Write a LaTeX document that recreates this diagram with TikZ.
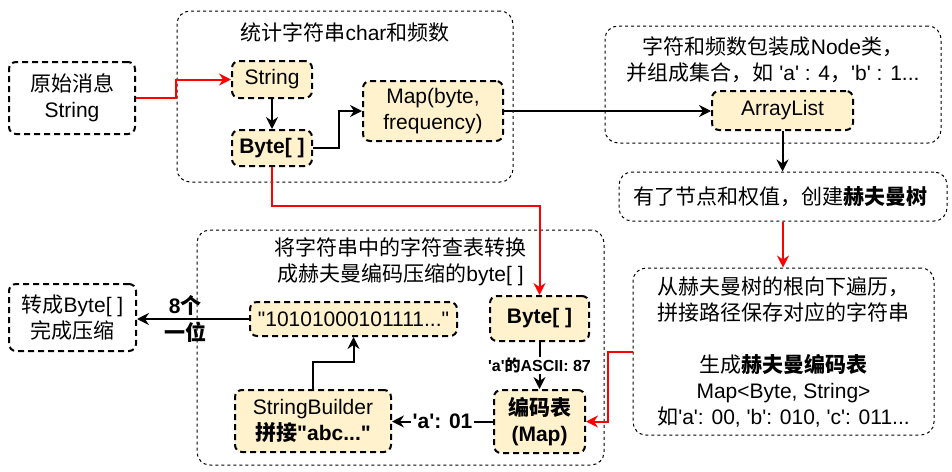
\documentclass[tikz,border=0pt]{standalone}
\usepackage{fontspec}
\setmainfont{Liberation Sans}[Ligatures=TeXOff]
\newfontfamily\cjk{Noto Sans CJK SC}
\usetikzlibrary{arrows.meta}
\definecolor{cream}{HTML}{FFF2CC}

\begin{document}
\begin{tikzpicture}[x=1pt,y=-1pt]\tikzstyle{every node}=[font=\fontsize{21}{26}\selectfont]
\tikzstyle{groupbox}=[draw, line width=1pt, dash pattern=on 3pt off 3pt, rounded corners=13pt, align=center]
\tikzstyle{endbox}=[draw, line width=2pt, dash pattern=on 6pt off 4pt, rounded corners=7pt, align=center, fill=white]
\tikzstyle{databox}=[endbox, fill=cream]
\tikzstyle{flow}=[draw, line width=2pt, -{Stealth[length=12pt, width=12pt, inset=4pt]}]
\tikzstyle{redflow}=[flow, red]
\tikzstyle{lbl}=[font=\fontsize{21}{26}\selectfont\bfseries]
\useasboundingbox (0,0) rectangle (952,471);
% groups
  \node[groupbox, minimum width=336, minimum height=171] (grp1) at (345,96.5) {};
  \node (t1) at (345,32) {{\cjk 统计字符串}char{\cjk 和频数}};
  \node[groupbox, minimum width=336, minimum height=117] (grp2) at (773,84.5) {};
  \node[align=center] (t2) at (773,59.5)%
{%
  {\cjk 字符和频数包装成}Node{\cjk 类，}\\
  {\cjk 并组成集合，如} 'a' : 4{\cjk ，}'b' : 1...
};
  \node[groupbox, minimum width=407, minimum height=235] (grp3) at (400.5,347.5) {};
  \node[align=center] (t3) at (400.5,262)%
{%
  {\cjk 将字符串中的字符查表转换}\\
  {\cjk 成赫夫曼编码压缩的}byte[ ]
};
% source
  \node[endbox, minimum width=126, minimum height=72] (src) at (72,98) {{\cjk 原始消息}\\String};
% count
  \node[databox, minimum width=80, minimum height=37] (str) at (272,79.5) {String};
  \node[databox, minimum width=80, minimum height=36] (bytes) at (272,148) {\textbf{Byte[ ]}};
  \node[databox, minimum width=140, minimum height=60] (map) at (433,111) {Map(byte,\\frequency)};
% list
  \node[databox, minimum width=141, minimum height=39] (list) at (782.5,110.5) {ArrayList};
% tree
  \node[groupbox, minimum width=328, minimum height=49] (tree) at (783,196.5)%
{%
  {\cjk 有了节点和权值，创建}\textbf{\cjk 赫夫曼树}
};
% codes
  \node[groupbox, minimum width=301, minimum height=167] (code) at (783.5,351.5)%
{%
  {\cjk 从赫夫曼树的根向下遍历，}\\
  {\cjk 拼接路径保存对应的字符串}\\[26pt]
  {\cjk 生成}\textbf{\cjk 赫夫曼编码表}\\
  Map<Byte, String>\\
  {\cjk 如}'a': 00, 'b': 010, 'c': 011...
};
% encode
  \node[databox, minimum width=99, minimum height=45] (bytes2) at (539.5,318.5) {\textbf{Byte[ ]}};
  \node[databox, minimum width=91, minimum height=63] (table) at (539.5,421.5) {\textbf{\cjk 编码表}\\\textbf{(Map)}};
  \node[databox, minimum width=156, minimum height=62] (sb) at (313,421) {StringBuilder\\\textbf{{\cjk 拼接}"abc..."}};
  \node[databox, minimum width=207, minimum height=34] (bits) at (353.5,319) {"10101000101111..."};
% result
  \node[endbox, minimum width=127, minimum height=67] (done) at (72.5,317.5) {{\cjk 转成}Byte[ ]\\{\cjk 完成压缩}};
%%%%%%%%%%%%%%%%
\draw[redflow] (src.east) -- ++(40,0) |- (str.west);
\draw[flow] (str) -- (bytes);
\draw[flow] (bytes.east) -- ++(26,0) |- (map.west);
\draw[flow] (map.east) -- (map.east -| list.west);
\draw[flow] (list.south) -- (list.south |- tree.north);
\draw[redflow] (tree.south) -- (tree.south |- code.north);
\draw[redflow] (bytes.south) -- ++(0,39) -| (bytes2.north);
\draw[flow] (bytes2) -- node[midway, fill=white, inner sep=1pt, font=\fontsize{16}{19}\selectfont\bfseries] {'a'{\cjk 的}ASCII: 87} (table);
\draw[redflow] (code.west) -- ++(-25,0) |- (table.east);
\draw[flow] (table.west) -- node[midway, fill=white, lbl, inner sep=2pt] {'a': 01} (table.west -| sb.east);
\draw[flow] (sb.north) -- ++(0,-27) -| (bits.south);
\draw[flow] (bits.west) -- node[pos=0.57, lbl, align=center] {8{\cjk 个}\\[1pt]{\cjk 一位}} (bits.west -| done.east);
\end{tikzpicture}
\end{document}
